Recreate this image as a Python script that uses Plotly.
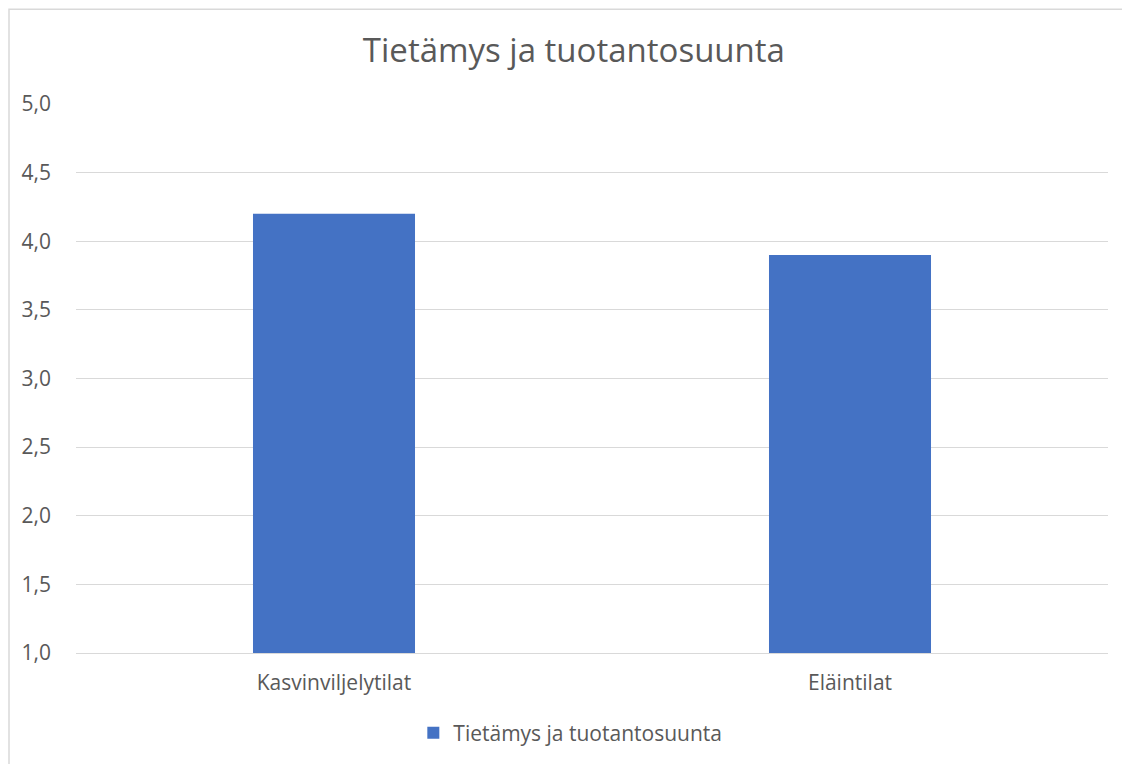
import plotly.graph_objects as go

categories = ["Kasvinviljelytilat", "Eläintilat"]
values = [4.2, 3.9]
series_name = "Tietämys ja tuotantosuunta"
title_text = "Tietämys ja tuotantosuunta"
y_ticks = [1.0, 1.5, 2.0, 2.5, 3.0, 3.5, 4.0, 4.5, 5.0]

FONT = "Open Sans, Noto Sans, sans-serif"
GREY = "#595959"

fig = go.Figure()
fig.add_trace(go.Bar(
    x=categories, y=values, name=series_name,
    marker=dict(color="#4472C4", line=dict(width=0)),
    showlegend=True,
))

fig.update_layout(
    width=1114, height=756,
    margin=dict(l=68, r=14, t=96, b=110),
    paper_bgcolor="white", plot_bgcolor="white",
    separators=", ",
    bargap=0.686,
    font=dict(family=FONT, color=GREY, size=21),
    title=dict(text=title_text, x=0.508, xanchor="center", y=0.944, yanchor="middle",
               font=dict(family=FONT, size=33, color=GREY)),
    legend=dict(orientation="h", x=0.479, xanchor="center", y=-0.1436, yanchor="middle",
                font=dict(size=21, color=GREY), itemwidth=30),
    xaxis=dict(showgrid=False, showline=True, linecolor="#D9D9D9", linewidth=1,
               tickfont=dict(size=21, color=GREY), ticklabelstandoff=11),
    yaxis=dict(range=[1, 5], tickvals=y_ticks, tickformat=".1f", showgrid=True,
               gridcolor="#D9D9D9", gridwidth=1, zeroline=False, showline=False,
               tickfont=dict(size=21, color=GREY), ticklabelstandoff=24),
    shapes=[dict(type="rect", xref="paper", yref="paper",
                 x0=(1 - 68) / 1032, x1=1.1, y0=-0.3, y1=(646 - 1) / 550,
                 line=dict(color="#D9D9D9", width=1.5), layer="below")],
)

fig.write_html("out.html")
